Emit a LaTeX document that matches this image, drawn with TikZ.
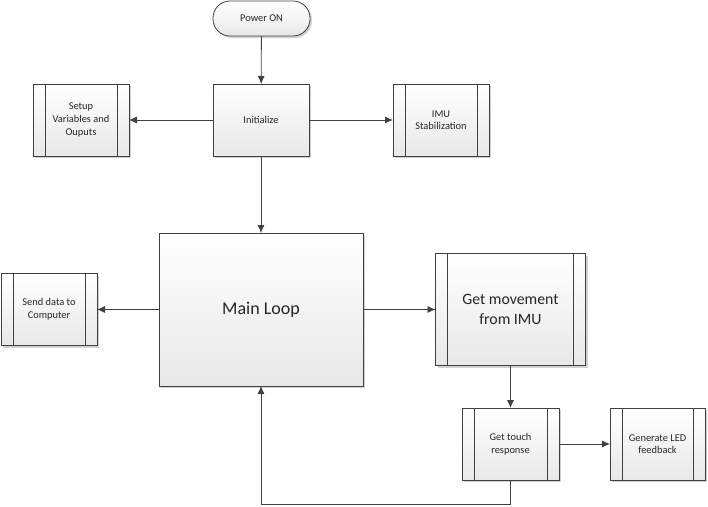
\documentclass[tikz,border=0pt]{standalone}
\usepackage{fontspec}
\setmainfont{Carlito}
\usetikzlibrary{shadows,arrows.meta}

\begin{document}
\begin{tikzpicture}[x=1pt,y=-1pt,line width=0.8pt,
    box/.style={draw=black!75, top color=white, bottom color=black!9,
        drop shadow={shadow xshift=2pt, shadow yshift=-2pt, fill=black!18, opacity=1},
        inner sep=0pt, outer sep=0pt, align=center, text=black!85, font=\fontsize{10.4}{12.6}\selectfont},
    proc/.style={box, path picture={
        \draw[black!75] ([xshift=12pt]path picture bounding box.north west) -- ([xshift=12pt]path picture bounding box.south west);
        \draw[black!75] ([xshift=-12pt]path picture bounding box.north east) -- ([xshift=-12pt]path picture bounding box.south east);}},
    big/.style={font=\fontsize{15.8}{19.3}\selectfont},
    link/.style={-{Latex[length=8pt,width=7pt]}, draw=black!75}]
                    \useasboundingbox (0,0) rectangle (708,506);

                    \node[box, rounded corners=17pt, minimum width=97pt, minimum height=35pt] (power) at (261.5,18.5) {Power ON};
                    \node[box, minimum width=96pt, minimum height=72pt] (init) at (261,120) {Initialize};
                    \node[proc, minimum width=96pt, minimum height=72pt] (setup) at (81,120) {Setup\\Variables and\\Ouputs};
                    \node[proc, minimum width=96pt, minimum height=72pt] (imu) at (441,120) {IMU\\Stabilization};

                    \node[box, font=\fontsize{18}{22}\selectfont, minimum width=204pt, minimum height=153pt] (main) at (261,309.5) {Main Loop};
                    \node[proc, minimum width=96pt, minimum height=72pt] (send) at (49,309.5) {Send data to\\Computer};
                    \node[proc, big, minimum width=150pt, minimum height=112pt] (move) at (510.5,309.5) {Get movement\\from IMU};

                    \node[proc, minimum width=97pt, minimum height=72pt] (touch) at (510.5,444) {Get touch\\response};
                    \node[proc, minimum width=95pt, minimum height=72pt] (led) at (657.5,444) {Generate LED\\feedback};

                    \draw[link] (power) -- (init);
                    \draw[link] (init) -- (setup);
                    \draw[link] (init) -- (imu);
                    \draw[link] (init) -- (main);
                    \draw[link] (main) -- (send);
                    \draw[link] (main) -- (move);
                    \draw[link] (move) -- (touch);
                    \draw[link] (touch) -- (led);
                    \draw[link] (touch.south) -- ++(0,24) -| (main.south);

                \end{tikzpicture}
\end{document}
